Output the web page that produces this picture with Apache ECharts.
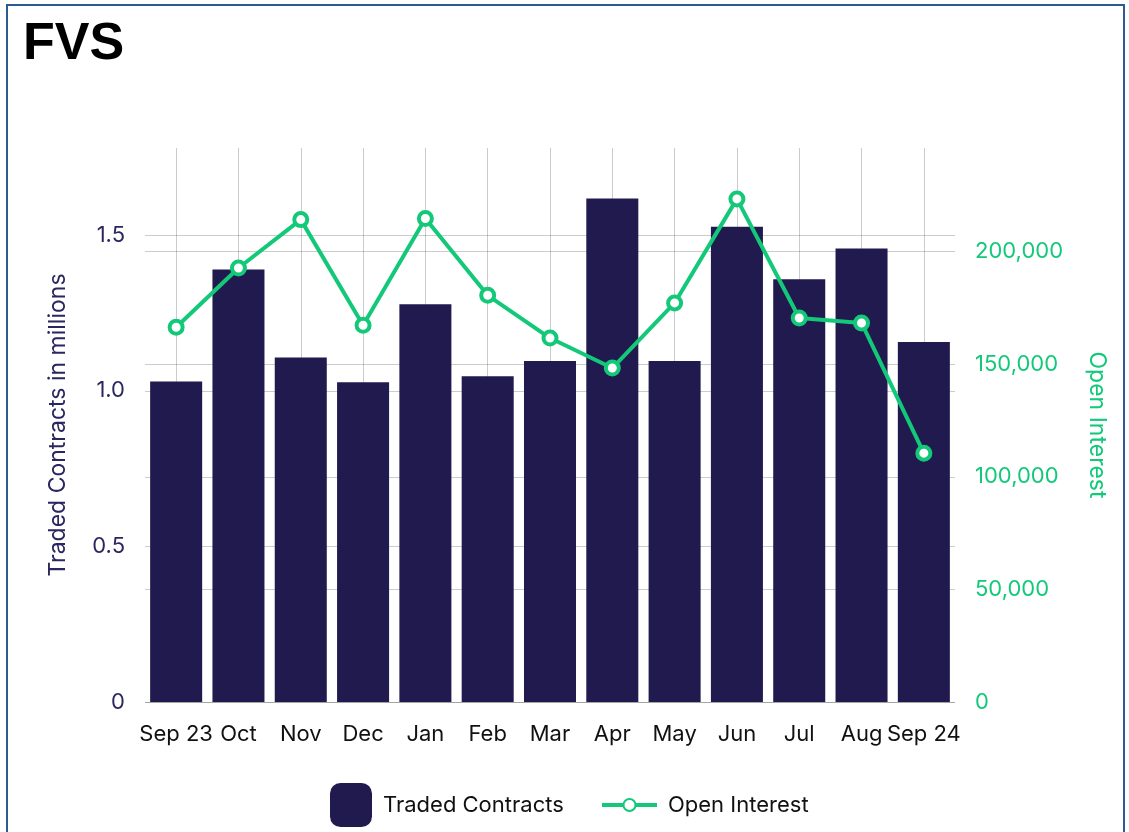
<!DOCTYPE html>
<html>
<head>
<meta charset="utf-8">
<script src="https://cdn.jsdelivr.net/npm/echarts@6/dist/echarts.min.js"></script>
<style>
  html, body { margin: 0; padding: 0; background: #fff; }
  #frame { position: absolute; left: 6px; top: 4px; width: 1119px; height: 840px; border: 2px solid #2d5b8f; box-sizing: border-box; }
  #main { position: absolute; left: 0; top: 0; width: 1129px; height: 832px; }
</style>
</head>
<body>
<div id="frame"></div>
<div id="main"></div>
<script>
  // months
  const months = ['Sep 23', 'Oct', 'Nov', 'Dec', 'Jan', 'Feb', 'Mar', 'Apr', 'May', 'Jun', 'Jul', 'Aug', 'Sep 24'];
  // traded contracts, millions
  const traded = [1.03, 1.39, 1.107, 1.027, 1.278, 1.047, 1.096, 1.618, 1.096, 1.527, 1.358, 1.457, 1.157];
  // open interest
  const openInterest = [166400, 192700, 214200, 167300, 214700, 180600, 161600, 148300, 177200, 223400, 170500, 168300, 110500];
  const leftTicks = [0, 0.5, 1.0, 1.5];
  const rightTicks = [0, 50000, 100000, 150000, 200000];

  const navy = '#211a4f';
  const green = '#13c979';
  const gridCol = 'rgba(0,0,0,0.2)';
  const fontFam = 'Inter, "Noto Sans", sans-serif';

  const myChart = echarts.init(document.getElementById('main'));
  const option = {
    animation: false,
    title: {
      text: 'FVS',
      left: 18,
      top: 14,
      textStyle: { fontFamily: '"Liberation Sans", Arial, sans-serif', fontWeight: 'bold', fontSize: 52, color: '#000' }
    },
    grid: { left: 145, right: 174, top: 148, bottom: 130 },
    legend: [
      {
        data: ['Traded Contracts'],
        left: 330, top: 783,
        padding: 0,
        itemWidth: 42, itemHeight: 44,
        icon: 'roundRect',
        textStyle: { fontFamily: fontFam, fontSize: 22, color: '#111', padding: [0, 0, 0, 6] }
      },
      {
        data: ['Open Interest'],
        left: 600, top: 794,
        padding: 0,
        itemWidth: 55, itemHeight: 15,
        lineStyle: { width: 4 },
        textStyle: { fontFamily: fontFam, fontSize: 22, color: '#111', padding: [0, 0, 0, 6] }
      }
    ],
    xAxis: {
      type: 'category',
      data: months,
      axisLine: { show: false },
      axisTick: { show: false },
      axisLabel: { color: '#111', fontFamily: fontFam, fontSize: 22, margin: 21, interval: 0 },
      splitLine: { show: true, alignWithLabel: true, lineStyle: { color: gridCol, width: 1 } }
    },
    yAxis: [
      {
        type: 'value',
        min: 0, max: 1.78, interval: 0.5,
        name: 'Traded Contracts in millions',
        nameLocation: 'middle',
        nameGap: 75,
        nameTextStyle: { color: '#2b2660', fontFamily: fontFam, fontSize: 23 },
        axisLine: { show: false },
        axisTick: { show: false },
        axisLabel: {
          color: '#2b2660', fontFamily: fontFam, fontSize: 22, margin: 20,
          customValues: leftTicks,
          formatter: function (v) { return v === 0 ? '0' : v.toFixed(1); }
        },
        splitLine: { show: true, showMaxLine: false, lineStyle: { color: gridCol } }
      },
      {
        type: 'value',
        min: 0, max: 246000, interval: 50000,
        name: 'Open Interest',
        nameLocation: 'middle',
        nameRotate: -90,
        nameGap: 130,
        nameTextStyle: { color: green, fontFamily: fontFam, fontSize: 23 },
        axisLine: { show: false },
        axisTick: { show: false },
        axisLabel: {
          color: green, fontFamily: fontFam, fontSize: 22, margin: 20,
          customValues: rightTicks,
          formatter: function (v) { return v.toLocaleString('en-US'); }
        },
        splitLine: { show: true, showMaxLine: false, lineStyle: { color: gridCol } }
      }
    ],
    series: [
      {
        name: 'Traded Contracts',
        type: 'bar',
        yAxisIndex: 0,
        barCategoryGap: '16.5%',
        itemStyle: { color: navy },
        data: traded
      },
      {
        name: 'Open Interest',
        type: 'line',
        yAxisIndex: 1,
        symbol: 'circle',
        symbolSize: 13,
        lineStyle: { color: green, width: 4 },
        itemStyle: { color: '#fff', borderColor: green, borderWidth: 4 },
        z: 5,
        data: openInterest
      }
    ]
  };
  myChart.setOption(option);
</script>
</body>
</html>
